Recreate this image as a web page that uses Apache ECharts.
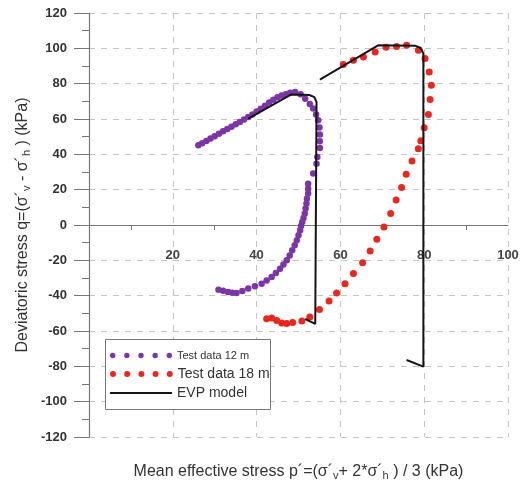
<!DOCTYPE html>
<html>
<head>
<meta charset="utf-8">
<script src="https://cdn.jsdelivr.net/npm/echarts@6/dist/echarts.min.js"></script>
<style>
html,body{margin:0;padding:0;background:#fff;}
#main{width:527px;height:481px;}
</style>
</head>
<body>
<div id="main"></div>
<script>
// test data, depth 12 m  [p', q]
var test12 = [
  [26.1,45.1],[27,46.3],[28,47.6],[29,48.9],[30,50.3],[31,51.6],[32,53],[33,54.3],
  [34,55.6],[35,57],[36,58.3],[37,59.7],[38,61.1],[39,62.6],[40,64.2],[41,65.8],
  [42,67.5],[43,69.3],[44,70.9],[45,72.3],[46,73.3],[47,74],[48,74.8],[49.2,75.3],
  [50.5,74],[51.6,71.5],[52.7,68.5],[53.5,65.9],[54.2,62.5],[54.7,59.3],[55,55.2],
  [55.1,51.2],[55.1,47.4],[55.1,43.6],[54.5,38.5],[54.3,34.7],[53.5,29.1],[52.3,23.4],
  [52.3,20.5],[52.3,17.8],[52,14.8],[51.9,12.1],[51.7,9.3],[51.5,6.5],[51.2,4],
  [50.9,1.7],[50.6,-0.6],[50.4,-3],[50,-5.8],[49.6,-8.7],[49.1,-11.5],[48.5,-14.3],
  [47.9,-17.2],[47.2,-20],[46.4,-22.4],[45.6,-24.7],[44.6,-27.1],[43.6,-29.4],
  [42.4,-31.4],[41.2,-33.2],[39.6,-34.7],[38,-36],[36.6,-37.3],[35.2,-38.5],
  [34.2,-38.3],[33.2,-37.9],[32,-37.2],[30.9,-36.6]
];
// test data, depth 18 m
var test18 = [
  [42.4,-53],[43.6,-52.6],[44.8,-54],[46,-55.5],[47.2,-55.8],[48.6,-55.2],[50.8,-54.3],
  [52.7,-52.1],[55,-47.9],[57.3,-43],[59.1,-38.5],[61.1,-33.2],[63.1,-27.5],
  [65.3,-21.3],[67.1,-14.7],[68.7,-8.1],[70.4,-1.1],[72,6.5],[73.3,14.1],[74.6,21.2],
  [75.7,28.7],[77.1,36.2],[78.6,43.2],[79.2,47.7],[80,55.1],[81,62.6],[81.4,71],
  [81.7,79.1],[81.2,86.6],[80.2,94.2],[78.6,98.9],[75.8,101.7],[73.4,101.1],
  [70.9,100.6],[68.3,97.9],[65.5,95.1],[63.1,93.2],[60.7,90.9]
];
// EVP model, two stress paths
var evp12 = [[51.6,-53.2],[54.0,-56],[54.3,69.5],[53.8,72.4],[52.6,73.6],[48.2,73.8],[38,60.2]];
var evp18 = [[75.8,-76.4],[79.8,-80.2],[79.8,97],[79.2,100.2],[77.8,101.5],[69,101.7],[55.1,82.3]];

var font = 'Liberation Sans, Arial, sans-serif';

// row of five dots for the legend
function dotsPath(r, gap){
  var p = 'path://';
  for (var i = 0; i < 5; i++) {
    var cx = r + i * gap;
    p += 'M' + (cx - r) + ',' + r + 'a' + r + ',' + r + ' 0 1,0 ' + (2 * r) + ',0' +
         'a' + r + ',' + r + ' 0 1,0 ' + (-2 * r) + ',0Z';
  }
  return p;
}

var chart = echarts.init(document.getElementById('main'));
var axisCol = '#777';
var subStyle = { fontSize: 11, padding: [7, 0, 0, 0], color: '#333', fontFamily: font };

var option = {
  backgroundColor: '#fff',
  animation: false,
  grid: { left: 89, right: 19, top: 13, bottom: 44, containLabel: false, outerBoundsMode: 'none' },
  xAxis: {
    type: 'value', min: 0, max: 100, interval: 20,
    name: 'Mean effective stress p´=(σ´{s|v}+ 2*σ´{s|h} ) / 3 (kPa)',
    nameLocation: 'middle', nameGap: 26, nameMoveOverlap: false,
    nameTextStyle: { fontSize: 16, color: '#333', fontFamily: font, rich: { s: subStyle } },
    axisLine: { onZero: true, lineStyle: { color: axisCol, width: 1.2 } },
    axisTick: { show: false },
    minorTick: { show: true, splitNumber: 2, length: 5, lineStyle: { color: axisCol } },
    axisLabel: {
      // labels sit just under the zero line, not at the grid bottom
      margin: -188, fontSize: 13, fontWeight: 'bold', color: '#444', fontFamily: font,
      formatter: function (v) { return v === 0 ? '' : v; }
    },
    splitLine: { show: true, lineStyle: { type: [6, 6], color: '#c4c4c4', width: 1 } }
  },
  yAxis: {
    type: 'value', min: -120, max: 120, interval: 20,
    name: 'Deviatoric stress q=(σ´{s|v} - σ´{s|h} ) (kPa)',
    nameLocation: 'middle', nameGap: 57, nameMoveOverlap: false,
    nameTextStyle: { fontSize: 16, color: '#333', fontFamily: font, rich: { s: subStyle } },
    axisLine: { lineStyle: { color: axisCol, width: 1.2 } },
    axisTick: { length: 15, lineStyle: { color: axisCol } },
    minorTick: { show: true, splitNumber: 2, length: 7, lineStyle: { color: axisCol } },
    axisLabel: { margin: 22, fontSize: 13, fontWeight: 'bold', color: '#333', fontFamily: font },
    splitLine: { show: true, lineStyle: { type: [6, 6], color: '#c4c4c4', width: 1 } }
  },
  graphic: [{
    type: 'rect', z: 3,
    shape: { x: 105.5, y: 339.5, width: 165, height: 70 },
    style: { fill: '#fff', stroke: '#777', lineWidth: 1 }
  }],
  legend: [
    {
      data: ['Test data 12 m'], left: 110, top: 350, padding: 0, z: 5,
      itemWidth: 62, itemHeight: 5.4, icon: dotsPath(2.7, 14.2),
      textStyle: { fontSize: 11, color: '#333', fontFamily: font }
    },
    {
      data: ['Test data 18 m'], left: 110, top: 367, padding: 0, z: 5,
      itemWidth: 62.8, itemHeight: 6, icon: dotsPath(3, 14.2),
      textStyle: { fontSize: 14, color: '#333', fontFamily: font }
    },
    {
      data: ['EVP model'], left: 110, top: 386, padding: 0, z: 5,
      itemWidth: 62, itemHeight: 2, icon: 'rect',
      textStyle: { fontSize: 14, color: '#333', fontFamily: font }
    }
  ],
  series: [
    {
      name: 'Test data 12 m', type: 'scatter', data: test12,
      symbolSize: 6.5, itemStyle: { color: '#7b35a6', opacity: 1 }
    },
    {
      name: 'Test data 18 m', type: 'scatter', data: test18,
      symbolSize: 7, itemStyle: { color: '#e8281e', opacity: 1 }
    },
    {
      name: 'EVP model', type: 'line', data: evp12, showSymbol: false,
      itemStyle: { color: '#151515' }, lineStyle: { color: '#151515', width: 2 }, z: 3
    },
    {
      name: 'EVP model', type: 'line', data: evp18, showSymbol: false,
      itemStyle: { color: '#151515' }, lineStyle: { color: '#151515', width: 2 }, z: 3
    }
  ]
};
chart.setOption(option);
</script>
</body>
</html>
